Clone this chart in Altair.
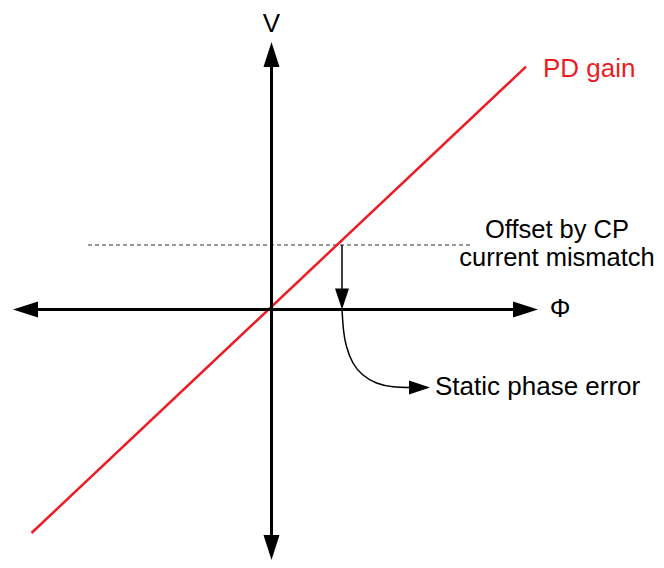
import altair as alt
import pandas as pd
import numpy as np

# Diagram coordinates: origin at the axes crossing, y up
X_DOMAIN = [-263.5, 384.5]
Y_DOMAIN = [-250.5, 301.5]

# Axes (tip positions)
axis_h = [-258.5, 266.5]     # left tip, right tip (y = 0)
axis_v = [-250.5, 267.5]     # bottom tip, top tip (x = 0)

# PD gain line
red_x = [-240, 254.5]
red_y = [-223.5, 242.8]

# CP mismatch offset (dashed)
offset_level = 64.5
offset_x = [-183.5, 198.5]

# static phase error point / arrow
spe_x = 70.5

# curved arrow points
curve_x = [70.5, 72, 75, 81.5, 91.5, 105, 121.5, 139]
curve_y = [0, -20.5, -37, -53.5, -65.5, -73.5, -77.3, -78]
curve_tip = (158.5, -78)

RED = "#ED1C24"
FONT = "Liberation Sans"

xs = alt.Scale(domain=X_DOMAIN, nice=False, zero=False)
ys = alt.Scale(domain=Y_DOMAIN, nice=False, zero=False)

def rules(df, **kw):
    return alt.Chart(df).mark_rule(**kw).encode(
        x=alt.X("x:Q", scale=xs, axis=None),
        y=alt.Y("y:Q", scale=ys, axis=None),
        x2="x2:Q", y2="y2:Q")

# axes lines (end at arrowhead centres)
axes_df = pd.DataFrame({
    "x": [axis_h[0] + 12, 0], "x2": [axis_h[1] - 12, 0],
    "y": [0, axis_v[0] + 12], "y2": [0, axis_v[1] - 12]})
axes = rules(axes_df, color="black", strokeWidth=3)

red_df = pd.DataFrame({"x": [red_x[0]], "x2": [red_x[1]], "y": [red_y[0]], "y2": [red_y[1]]})
red = rules(red_df, color=RED, strokeWidth=2.5)

dash_df = pd.DataFrame({"x": [offset_x[0]], "x2": [offset_x[1]], "y": [offset_level], "y2": [offset_level]})
dash = rules(dash_df, color="#333333", strokeWidth=1, strokeDash=[4, 3])

down_df = pd.DataFrame({"x": [spe_x], "x2": [spe_x], "y": [offset_level], "y2": [12]})
down = rules(down_df, color="black", strokeWidth=1.5)

curve_df = pd.DataFrame({"x": curve_x, "y": curve_y, "o": range(len(curve_x))})
curve = alt.Chart(curve_df).mark_line(color="black", strokeWidth=1.5, interpolate="natural").encode(
    x=alt.X("x:Q", scale=xs, axis=None), y=alt.Y("y:Q", scale=ys, axis=None), order="o:Q")

# arrowheads: tip positions, direction angle (0=up, 90=right...)
def heads(tips, angles, length, halfw):
    rows = []
    for (tx, ty), a in zip(tips, angles):
        r = np.deg2rad(a)
        dx, dy = np.sin(r), np.cos(r)
        rows.append({"x": tx - dx * length / 2, "y": ty - dy * length / 2, "angle": a})
    df = pd.DataFrame(rows)
    k = 2 * halfw / length
    path = f"M0,-1L{-k:.3f},1L{k:.3f},1Z"
    return alt.Chart(df).mark_point(shape=path, filled=True, color="black", opacity=1,
                                    size=length ** 2, strokeWidth=0).encode(
        x=alt.X("x:Q", scale=xs, axis=None), y=alt.Y("y:Q", scale=ys, axis=None),
        angle=alt.Angle("angle:Q", scale=None))

big_heads = heads([(0, axis_v[1]), (0, axis_v[0]), (axis_h[0], 0), (axis_h[1], 0)],
                  [0, 180, 270, 90], 25, 8)
small_heads = heads([(spe_x, 0), curve_tip], [180, 90], 21, 7)

def label(texts, x, y, color="black", align="center", size=26):
    df = pd.DataFrame({"t": texts, "x": x, "y": y})
    return alt.Chart(df).mark_text(font=FONT, fontSize=size, color=color, align=align,
                                   baseline="alphabetic").encode(
        x=alt.X("x:Q", scale=xs, axis=None), y=alt.Y("y:Q", scale=ys, axis=None), text="t:N")

t_v = label(["V"], [0], [277.5])
t_phi = label(["Φ"], [288.5], [-7.5])
t_pd = label(["PD gain"], [271.5], [232.5], color=RED, align="left")
t_off = label(["Offset by CP", "current mismatch"], [285.5, 285.5], [71.5, 43.5], size=25.5)
t_spe = label(["Static phase error"], [163.5], [-85.5], align="left")

chart = alt.layer(dash, red, axes, down, curve, big_heads, small_heads,
                  t_v, t_phi, t_pd, t_off, t_spe).properties(
    width=648, height=552, padding=0,
    autosize=alt.AutoSizeParams(type="none"),
    background="white").configure_view(stroke=None)

chart.save("out.html", embed_options={"renderer": "svg", "actions": False})
